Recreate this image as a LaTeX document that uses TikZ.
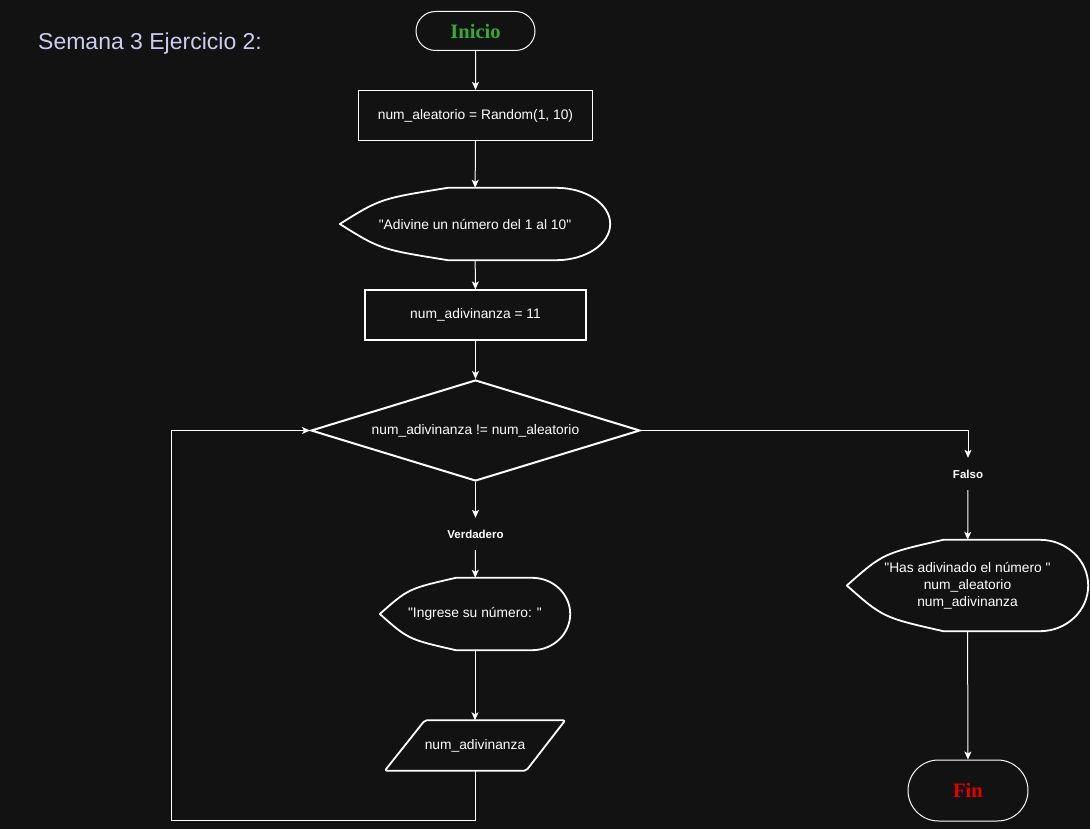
\documentclass[tikz,border=0pt]{standalone}
\usepackage{fontspec}
\setmainfont{Liberation Sans}[Ligatures=TeXOff]
\newfontfamily\termfont{Liberation Serif}
\usepackage{tikz}
\usetikzlibrary{arrows.meta,calc,positioning,shapes.geometric,shapes.misc}
\definecolor{canvasbg}{RGB}{18,18,18}
\definecolor{titlecolor}{RGB}{204,204,240}
\definecolor{startgreen}{RGB}{54,170,54}
\definecolor{endred}{RGB}{228,0,0}
\tikzset{
  terminal/.style={rounded rectangle,draw=white,line width=1pt,minimum width=119pt,
    minimum height=39pt,inner sep=0pt,font=\termfont\bfseries\fontsize{20.5}{24}\selectfont},
  process/.style={rectangle,draw=white,line width=1.2pt,minimum height=50pt,inner sep=0pt,
    text=white,font=\fontsize{13.8}{17}\selectfont},
  display/.style={rectangle,inner sep=0pt,minimum height=72pt,text=white,align=center,
    font=\fontsize{13.8}{17}\selectfont},
  decision/.style={diamond,draw=white,line width=2pt,minimum width=329pt,minimum height=101pt,
    aspect=3.2,inner sep=0pt,text=white,font=\fontsize{13.8}{17}\selectfont},
  datain/.style={rectangle,inner sep=0pt,minimum width=180pt,minimum height=50pt,text=white,
    font=\fontsize{13.8}{17}\selectfont},
  outline/.style={draw=white,line width=1.8pt,line join=round},
  flow/.style={-{Stealth[length=8pt,width=7pt,inset=2pt]},white,line width=1pt},
  branch/.style={font=\bfseries\fontsize{11.5}{13}\selectfont,text=white,inner xsep=2pt,
    inner ysep=12pt,text height=8pt,text depth=0pt},
  heading/.style={font=\fontsize{23}{27}\selectfont,text=titlecolor,inner sep=0pt}
}

\begin{document}
\begin{tikzpicture}[x=1pt,y=-1pt]
  \fill[canvasbg] (0,0) rectangle (1090,829);
  \useasboundingbox (0,0) rectangle (1090,829);

  \node[heading,anchor=west] (title) at (38,44) {Semana 3 Ejercicio 2:};

  \node[terminal,text=startgreen] (start) at (475.5,31) {Inicio};
  \node[process,minimum width=234pt] (init) at (475.5,115.5) {num\_aleatorio = Random(1, 10)};
  \node[display,minimum width=270pt] (hint) at (475,224) {"Adivine un número del 1 al 10"};
  \node[process,minimum width=221pt] (guess) at (475.5,315) {num\_adivinanza = 11};
  \node[decision] (cond) at (475.5,430.5) {num\_adivinanza != num\_aleatorio};
  \node[branch] (yes) at (475.5,534) {Verdadero};
  \node[display,minimum width=190pt] (ask) at (475,614) {"Ingrese su número: "};
  \node[datain] (read) at (475,745.5) {num\_adivinanza};
  \node[branch] (no) at (968,474) {Falso};
  \node[display,minimum width=241pt,minimum height=91pt] (win) at (967.5,585.5)
    {"Has adivinado el número "\\num\_aleatorio\\num\_adivinanza};
  \node[terminal,text=endred,minimum width=120pt,minimum height=61pt] (stop) at (968,790.5) {Fin};
  \coordinate (loopturn) at (171,820);

  % outlines of the display and input shapes
  \foreach \shp in {hint,ask,win}
    \draw[outline] let \p1=(\shp.south west), \p2=(\shp.north east),
      \n1={\x2-\x1}, \n2={\y2-\y1} in
      (\x1,{0.5*(\y1+\y2)}) .. controls ({\x1+0.15*\n1},{\y1+0.85*\n2}) .. ({\x1+0.4*\n1},\y2)
      -- ({\x1+0.8*\n1},\y2)
      arc[start angle=90,end angle=-90,x radius={0.2*\n1*1pt},y radius={0.5*\n2*1pt}]
      -- ({\x1+0.4*\n1},\y1) .. controls ({\x1+0.15*\n1},{\y1+0.15*\n2}) .. (\x1,{0.5*(\y1+\y2)})
      -- cycle;
  \draw[outline,rounded corners=2pt] (read.south west) -- ([xshift=40pt]read.north west)
    -- (read.north east) -- ([xshift=-39pt]read.south east) -- cycle;

  \draw[flow] (start) -- (init);
  \draw[flow] (init) -- (hint);
  \draw[flow] (hint) -- (guess);
  \draw[flow] (guess) -- (cond);
  \draw[flow] (cond) -- (yes);
  \draw[flow] (yes) -- (ask);
  \draw[flow] (ask) -- (read);
  \draw[flow] (read.south) |- (loopturn) |- (cond.west);
  \draw[flow] (cond.east) -| (no);
  \draw[flow] (no) -- (win);
  \draw[flow] (win) -- (stop);
\end{tikzpicture}
\end{document}
